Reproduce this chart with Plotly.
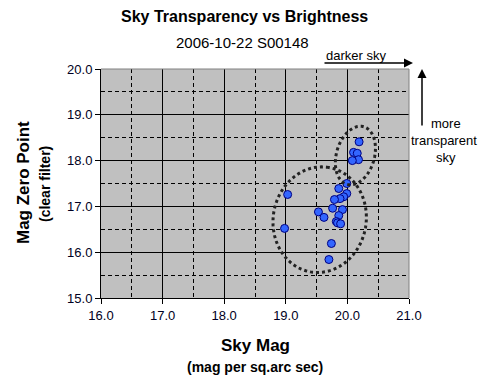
import numpy as np
import plotly.graph_objects as go

# ---- data ----
sky_mag = [20.19, 20.10, 20.16, 20.18, 20.08, 19.99, 19.86, 19.99, 19.94, 19.88,
           19.79, 19.03, 19.76, 19.92, 19.53, 19.62, 19.86, 19.82, 19.84, 19.89,
           18.98, 19.74, 19.70]
zero_point = [18.41, 18.18, 18.16, 18.02, 18.00, 17.50, 17.39, 17.28, 17.21, 17.17,
              17.15, 17.26, 16.96, 16.93, 16.88, 16.76, 16.80, 16.67, 16.64, 16.62,
              16.52, 16.19, 15.84]

x_ticks = [16.0, 17.0, 18.0, 19.0, 20.0, 21.0]
y_ticks = [15.0, 16.0, 17.0, 18.0, 19.0, 20.0]

# ---- geometry ----
W, H = 488, 390
L, R, T, B = 101, 79, 69, 92
PW, PH = W - L - R, H - T - B
XR, YR = (16.0, 21.0), (15.0, 20.0)
SX = PW / (XR[1] - XR[0])
SY = PH / (YR[1] - YR[0])


def ellipse_path(cx, cy, a_px, b_px, theta_deg, n=120):
    th = np.radians(theta_deg)
    t = np.linspace(0, 2 * np.pi, n, endpoint=False)
    u = a_px * np.cos(t)
    v = b_px * np.sin(t)
    dx = u * np.cos(th) - v * np.sin(th)
    dy = u * np.sin(th) + v * np.cos(th)
    xs = cx + dx / SX
    ys = cy + dy / SY
    pts = [f"{x:.4f},{y:.4f}" for x, y in zip(xs, ys)]
    return "M " + " L ".join(pts) + " Z"


def px(x, y):
    return (x - L) / PW, (H - B - y) / PH


fig = go.Figure()
fig.add_trace(go.Scatter(
    x=sky_mag, y=zero_point, mode="markers",
    marker=dict(symbol="circle", size=8, color="#3366FF",
                line=dict(color="#000080", width=1)),
    showlegend=False, cliponaxis=False))

shapes = [
    dict(type="path", xref="x", yref="y",
         path=ellipse_path(19.55, 16.71, 53, 46.5, 80),
         line=dict(color="#222222", width=3, dash="dot")),
    dict(type="path", xref="x", yref="y",
         path=ellipse_path(20.13, 18.11, 30, 19, 74),
         line=dict(color="#222222", width=3, dash="dot")),
    dict(type="line", xref="paper", yref="paper", x0=0, x1=1, y0=1, y1=1,
         line=dict(color="#808080", width=1)),
    dict(type="line", xref="paper", yref="paper", x0=1, x1=1, y0=0, y1=1,
         line=dict(color="#808080", width=1)),
]

font = "Liberation Sans, Arial, sans-serif"
annotations = []


def text(x, y, s, size, bold=False):
    xp, yp = px(x, y)
    annotations.append(dict(
        x=xp, y=yp, xref="paper", yref="paper", showarrow=False,
        text=f"<b>{s}</b>" if bold else s,
        font=dict(family=font, size=size, color="black"),
        xanchor="center", yanchor="middle"))


text(244, 17, "Sky Transparency vs Brightness", 16, bold=True)
text(242, 42, "2006-10-22 S00148", 15)
text(356, 55, "darker sky", 13)
text(446, 123, "more", 13)
text(444, 140, "transparent", 13)
text(446, 157, "sky", 13)
text(255, 345, "Sky Mag", 17, bold=True)
text(255, 367, "(mag per sq.arc sec)", 14, bold=True)

xp, yp = px(23, 183)
annotations.append(dict(x=xp, y=yp, xref="paper", yref="paper", showarrow=False,
                        text="<b>Mag Zero Point</b>", textangle=-90,
                        xanchor="center", yanchor="middle",
                        font=dict(family=font, size=17, color="black")))
xp, yp = px(45, 184)
annotations.append(dict(x=xp, y=yp, xref="paper", yref="paper", showarrow=False,
                        text="<b>(clear filter)</b>", textangle=-90,
                        xanchor="center", yanchor="middle",
                        font=dict(family=font, size=14, color="black")))

# arrows
xp, yp = px(413, 63)
annotations.append(dict(x=xp, y=yp, xref="paper", yref="paper", text="",
                        showarrow=True, ax=-90, ay=0, arrowhead=2, arrowsize=1.2,
                        arrowwidth=1.5, arrowcolor="black"))
xp, yp = px(422, 69)
annotations.append(dict(x=xp, y=yp, xref="paper", yref="paper", text="",
                        showarrow=True, ax=0, ay=58, arrowhead=2, arrowsize=1.2,
                        arrowwidth=1.5, arrowcolor="black"))

axis_common = dict(
    showgrid=True, gridcolor="black", gridwidth=1,
    showline=True, linecolor="black", linewidth=1,
    ticks="outside", ticklen=5, tickcolor="black",
    tickfont=dict(family=font, size=13, color="#000022"),
    zeroline=False, fixedrange=True,
    minor=dict(dtick=0.5, showgrid=True, gridcolor="black", griddash="4px,3px",
               gridwidth=1, ticks=""),
)

fig.update_layout(
    width=W, height=H,
    margin=dict(l=L, r=R, t=T, b=B, pad=0),
    paper_bgcolor="white", plot_bgcolor="#C0C0C0",
    xaxis=dict(range=list(XR), tickvals=x_ticks,
               ticktext=[f"{v:.1f}" for v in x_ticks], **axis_common),
    yaxis=dict(range=list(YR), tickvals=y_ticks,
               ticktext=[f"{v:.1f}" for v in y_ticks], **axis_common),
    shapes=shapes, annotations=annotations,
)

fig.write_html("out.html", config={"displayModeBar": False},
               post_script="document.body.style.margin='0';"
                           "document.body.style.overflow='hidden';")
